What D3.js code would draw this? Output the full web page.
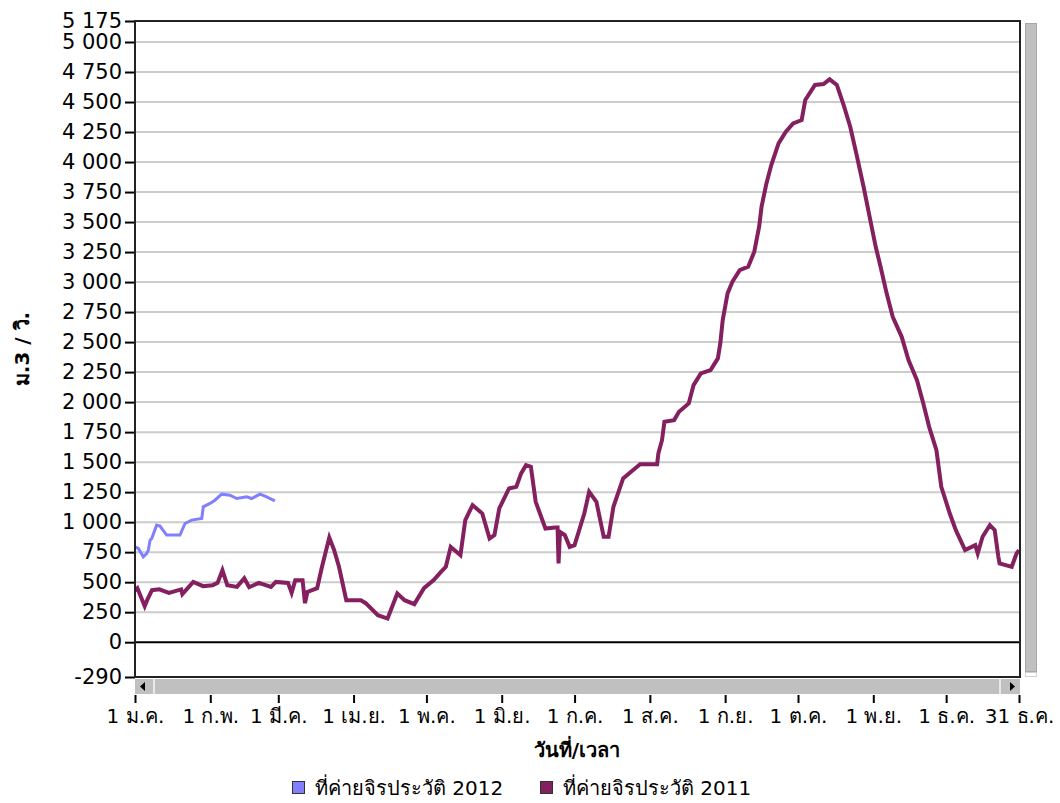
<!DOCTYPE html>
<meta charset="utf-8">
<style>
body { margin: 0; background: #fff; }
text {
  font-family: "DejaVu Sans", "Noto Sans", sans-serif;
  fill: #000;
}
.tick-label { font-size: 20px; }
.y-label { font-size: 21px; }
.axis-title { font-size: 20px; font-weight: bold; }
.legend-text { font-size: 20px; }
</style>
<svg width="1060" height="803" id="chart"></svg>
<script src="https://cdnjs.cloudflare.com/ajax/libs/d3/7.8.5/d3.min.js"></script>
<script>

// day of year (0 = 1 Jan) and flow (m3/s)
var days2011 = [0, 1, 4, 5, 7, 10, 14, 19, 19.5, 24, 28, 32, 34, 36, 38, 42, 45, 47, 51, 56, 58, 63, 64.5, 66, 69, 70, 71, 75, 77, 80, 82, 84, 87, 93, 95, 100, 104, 108, 111, 115, 119, 123, 126, 128, 130, 134, 136, 139, 143, 146, 148, 150, 154, 157, 159, 161, 163, 165, 169, 173, 174, 174.4, 175, 177, 179, 181, 185, 187, 190, 193, 195, 197, 201, 205, 208, 215, 215.5, 217, 218, 222, 224, 228, 230, 233, 237, 240, 241, 242, 244, 246, 249, 252.5, 255, 257, 258, 260, 262, 265, 268, 271, 274.5, 276, 280, 283.5, 286, 289, 292, 294.5, 297, 300, 302.5, 305, 307, 309.5, 312, 315.7, 318.5, 322, 324.6, 327, 330, 332, 335.5, 338, 341.8, 346, 347, 349, 352, 354, 355.5, 356, 361, 363, 364];
var flow2011 = [430, 450, 300, 350, 433, 440, 411, 440, 400, 502, 467, 475, 494, 600, 475, 461, 533, 458, 494, 461, 502, 494, 411, 517, 517, 325, 419, 450, 628, 872, 767, 628, 350, 350, 325, 225, 197, 406, 350, 317, 450, 517, 586, 628, 794, 725, 1017, 1142, 1072, 864, 892, 1114, 1281, 1294, 1406, 1475, 1461, 1169, 947, 956, 956, 656, 919, 892, 794, 808, 1072, 1253, 1169, 878, 878, 1128, 1364, 1433, 1483, 1483, 1572, 1683, 1836, 1850, 1919, 1989, 2142, 2239, 2267, 2364, 2489, 2683, 2906, 3003, 3100, 3128, 3253, 3461, 3628, 3822, 3975, 4156, 4253, 4322, 4350, 4517, 4642, 4650, 4689, 4642, 4461, 4294, 4072, 3794, 3544, 3294, 3128, 2906, 2711, 2544, 2350, 2183, 1989, 1794, 1600, 1294, 1072, 933, 767, 808, 739, 878, 975, 933, 711, 656, 628, 739, 767];

var days2012 = [0, 1.4, 3.4, 4.8, 5.5, 6.2, 6.9, 8.9, 10.3, 13, 15.8, 18.5, 20.6, 23.3, 27.5, 28.1, 30.9, 32.9, 35.7, 39.1, 41.9, 46, 48, 51.5, 54.2, 57.6];
var flow2012 = [794, 781, 711, 739, 767, 850, 864, 975, 967, 892, 892, 892, 989, 1017, 1031, 1128, 1156, 1183, 1233, 1225, 1197, 1211, 1197, 1233, 1211, 1178];

var yTicks = [-290, 0, 250, 500, 750, 1000, 1250, 1500, 1750, 2000, 2250, 2500, 2750, 3000, 3250, 3500, 3750, 4000, 4250, 4500, 4750, 5000, 5175];
var xTickMonths = [0, 1, 2, 3, 4, 5, 6, 7, 8, 9, 10, 11, 11];
var xTickDays = [1, 1, 1, 1, 1, 1, 1, 1, 1, 1, 1, 1, 31];
var xTickLabels = ["1 ม.ค.", "1 ก.พ.", "1 มี.ค.", "1 เม.ย.", "1 พ.ค.", "1 มิ.ย.", "1 ก.ค.", "1 ส.ค.", "1 ก.ย.", "1 ต.ค.", "1 พ.ย.", "1 ธ.ค.", "31 ธ.ค."];

var seriesNames = ["ที่ค่ายจิรประวัติ 2012", "ที่ค่ายจิรประวัติ 2011"];
var seriesColors = ["#8080ff", "#84205f"];

var svg = d3.select("#chart");
var plotLeft = 135, plotRight = 1020, plotTop = 21, plotBottom = 677;

var start = Date.UTC(2011, 0, 1);
var x = d3.scaleUtc()
    .domain([new Date(start), new Date(Date.UTC(2011, 11, 31))])
    .range([135, 1019]);
var y = d3.scaleLinear()
    .domain([-290, 5175])
    .range([plotBottom, plotTop]);

function dayDate(d) { return new Date(start + d * 864e5); }

var fmt = d3.formatLocale({ decimal: ".", thousands: " ", grouping: [3], currency: ["", ""], minus: "-" }).format(",d");

svg.append("rect").attr("width", 1060).attr("height", 803).attr("fill", "#fff");

// grid lines
svg.append("g").selectAll("line")
    .data(yTicks.filter(function(v) { return v > 0 && v < 5175; }))
    .enter().append("line")
    .attr("x1", plotLeft).attr("x2", plotRight)
    .attr("y1", function(v) { return y(v); })
    .attr("y2", function(v) { return y(v); })
    .attr("stroke", "#cccccc")
    .attr("stroke-width", 2);

// zero line
svg.append("line")
    .attr("x1", plotLeft).attr("x2", plotRight)
    .attr("y1", y(0)).attr("y2", y(0))
    .attr("stroke", "#000").attr("stroke-width", 2);

// y axis
var yAxis = d3.axisLeft(y).tickValues(yTicks).tickFormat(fmt).tickSize(10).tickPadding(3);
var gy = svg.append("g").attr("transform", "translate(" + plotLeft + ",0)").call(yAxis);
gy.select(".domain").remove();
gy.selectAll(".tick line").attr("stroke", "#000").attr("stroke-width", 2);
gy.selectAll(".tick text").attr("class", "y-label").attr("font-size", null).attr("font-family", null);

// series
svg.append("clipPath").attr("id", "plot-clip")
  .append("rect").attr("x", plotLeft).attr("y", plotTop).attr("width", plotRight - plotLeft).attr("height", plotBottom - plotTop);

var line = d3.line()
    .x(function(d) { return x(dayDate(d[0])); })
    .y(function(d) { return y(d[1]); });

svg.append("path")
    .datum(d3.zip(days2011, flow2011))
    .attr("clip-path", "url(#plot-clip)")
    .attr("d", line)
    .attr("fill", "none")
    .attr("stroke", seriesColors[1])
    .attr("stroke-width", 4)
    .attr("stroke-linejoin", "miter");

svg.append("path")
    .datum(d3.zip(days2012, flow2012))
    .attr("clip-path", "url(#plot-clip)")
    .attr("d", line)
    .attr("fill", "none")
    .attr("stroke", seriesColors[0])
    .attr("stroke-width", 3);

// frame
svg.append("rect")
    .attr("x", plotLeft).attr("y", plotTop)
    .attr("width", plotRight - plotLeft).attr("height", plotBottom - plotTop)
    .attr("fill", "none").attr("stroke", "#222").attr("stroke-width", 2);

// horizontal scrollbar
var hs = svg.append("g");
hs.append("rect").attr("x", plotLeft).attr("y", 679).attr("width", plotRight - plotLeft).attr("height", 15).attr("fill", "#c0c0c0");
hs.append("rect").attr("x", 153).attr("y", 679).attr("width", 2).attr("height", 15).attr("fill", "#e8e8e8");
hs.append("rect").attr("x", 999).attr("y", 679).attr("width", 2).attr("height", 15).attr("fill", "#e8e8e8");
hs.append("path").attr("d", "M140,686.5 L145,682 L145,691 Z").attr("fill", "#000");
hs.append("path").attr("d", "M1015,686.5 L1010,682 L1010,691 Z").attr("fill", "#000");

// vertical scrollbar
svg.append("rect").attr("x", 1025.5).attr("y", 23.5).attr("width", 11).attr("height", 648)
    .attr("fill", "#c0c0c0").attr("stroke", "#a8a8a8");
svg.append("rect").attr("x", 1025.5).attr("y", 672.5).attr("width", 11).attr("height", 4)
    .attr("fill", "#fff").attr("stroke", "#d0d0d0");

// x axis (below scrollbar)
var xAxis = d3.axisBottom(x)
    .tickValues(xTickMonths.map(function(m, i) { return new Date(Date.UTC(2011, m, xTickDays[i])); }))
    .tickFormat(function(d, i) { return xTickLabels[i]; })
    .tickSize(8).tickPadding(6);
var gx = svg.append("g").attr("transform", "translate(0,695)").call(xAxis);
gx.select(".domain").remove();
gx.selectAll(".tick line").attr("stroke", "#000").attr("stroke-width", 2);
gx.selectAll(".tick text").attr("class", "tick-label").attr("font-size", null).attr("font-family", null);

// axis titles
svg.append("text").attr("class", "axis-title")
    .attr("x", 577).attr("y", 757)
    .attr("text-anchor", "middle")
    .text("วันที่/เวลา");

svg.append("text").attr("class", "axis-title")
    .attr("transform", "translate(29,349) rotate(-90)")
    .attr("text-anchor", "middle")
    .text("ม.3 / วิ.");

// legend
var legendX = [292, 540];
var lg = svg.append("g").selectAll("g")
    .data(seriesNames)
    .enter().append("g")
    .attr("transform", function(d, i) { return "translate(" + legendX[i] + ",781)"; });
lg.append("rect")
    .attr("x", 0.5).attr("y", 0.5).attr("width", 12).attr("height", 12)
    .attr("fill", function(d, i) { return seriesColors[i]; })
    .attr("stroke", "#333");
lg.append("text").attr("class", "legend-text")
    .attr("x", 23).attr("y", 14)
    .text(function(d) { return d; });

</script>
